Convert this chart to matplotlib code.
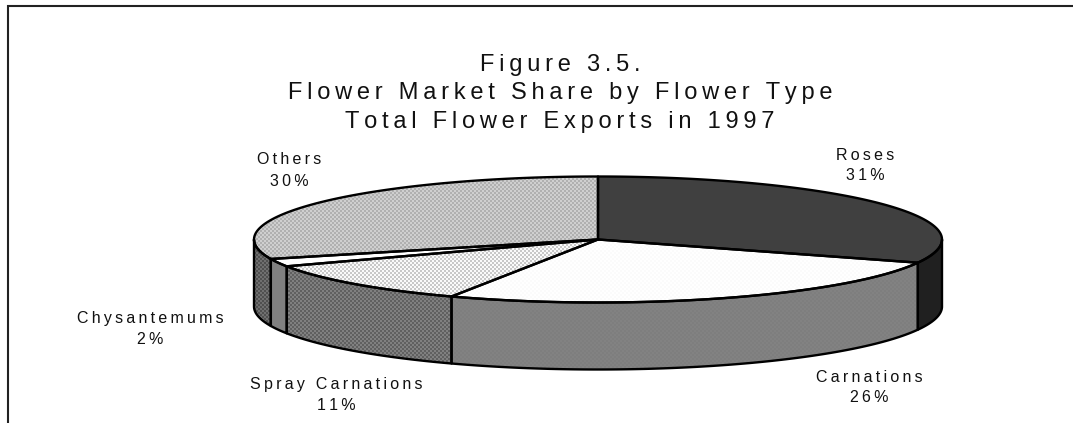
import numpy as np
import matplotlib
matplotlib.use("Agg")
import matplotlib.pyplot as plt
from matplotlib.patches import Polygon

W, H = 1073, 423

# --- data ---
flowers = ["Roses", "Carnations", "Spray Carnations", "Chysantemums", "Others"]
shares = [31, 26, 11, 2, 30]
share_labels = ["31%", "26%", "11%", "2%", "30%"]
title_lines = ["Figure 3.5.", "Flower Market Share by Flower Type", "Total Flower Exports in 1997"]

# dither colours: (colour a, colour b) on a 2px checker
top_cols = [("#404040", "#404040"), ("#ffffff", "#fbfbfb"), ("#fafafa", "#c8c8c8"),
            ("#ffffff", "#ffffff"), ("#cfcfcf", "#b0b0b0")]
side_cols = [("#202020", "#202020"), ("#828282", "#7e7e7e"), ("#808080", "#606060"),
             ("#808080", "#808080"), ("#707070", "#505050")]
label_pos = [(865, 155, 175), (869, 378, 398), (336, 385, 406), (150, 319, 339), (289, 160, 182)]

# pie geometry in pixels
CX, CY, RX, RY, DEPTH = 598, 239.5, 344, 63, 67
LW = 1.7


def spaced(s):
    return "\u2009".join(s)


def rim(a0, a1, n=120):
    # angles clockwise from the top, in degrees
    t = np.radians(np.linspace(a0, a1, n))
    return CX + RX * np.sin(t), CY - RY * np.cos(t)


def checker(c1, c2):
    yy, xx = np.mgrid[0:H, 0:W]
    mask = ((xx // 2 + yy // 2) % 2 == 0)[..., None]
    a = np.array(matplotlib.colors.to_rgb(c1))
    b = np.array(matplotlib.colors.to_rgb(c2))
    return mask * a + (~mask) * b


def fill(ax, pts, cols):
    poly = Polygon(pts, closed=True, facecolor="none", edgecolor="black", lw=LW,
                   joinstyle="round", zorder=3)
    ax.add_patch(poly)
    im = ax.imshow(checker(*cols), extent=(0, W, H, 0), interpolation="nearest",
                   zorder=2, aspect="auto")
    im.set_clip_path(poly)


fig = plt.figure(figsize=(W / 100, H / 100), dpi=100, facecolor="white")
ax = fig.add_axes([0, 0, 1, 1])
ax.set_xlim(0, W)
ax.set_ylim(H, 0)
ax.axis("off")

edges = np.concatenate([[0], np.cumsum(shares)]) * 3.6

# side walls first, only the front half shows
for i in range(len(shares)):
    a0, a1 = max(edges[i], 90), min(edges[i + 1], 270)
    if a1 <= a0:
        continue
    x, y = rim(a0, a1)
    pts = np.column_stack([np.r_[x, x[::-1]], np.r_[y, y[::-1] + DEPTH]])
    fill(ax, pts, side_cols[i])

# then the top face
for i in range(len(shares)):
    x, y = rim(edges[i], edges[i + 1])
    pts = np.column_stack([np.r_[CX, x], np.r_[CY, y]])
    fill(ax, pts, top_cols[i])

# frame, open at the right and bottom
ax.plot([8, 8, W], [H, 6.5, 6.5], color="#222222", lw=1.5, solid_joinstyle="miter", zorder=1)

font = ["Liberation Sans", "DejaVu Sans"]
for line, yc in zip(title_lines, [65, 93, 122]):
    ax.text(560, yc, spaced(line), ha="center", va="center", fontsize=17,
            family=font, color="#111111")

for name, lab, (xc, y1, y2) in zip(flowers, share_labels, label_pos):
    ax.text(xc, y1, spaced(name), ha="center", va="center", fontsize=11.5, family=font, color="#111111")
    ax.text(xc, y2, spaced(lab), ha="center", va="center", fontsize=11.5, family=font, color="#111111")

fig.savefig("out.png", dpi=100)
